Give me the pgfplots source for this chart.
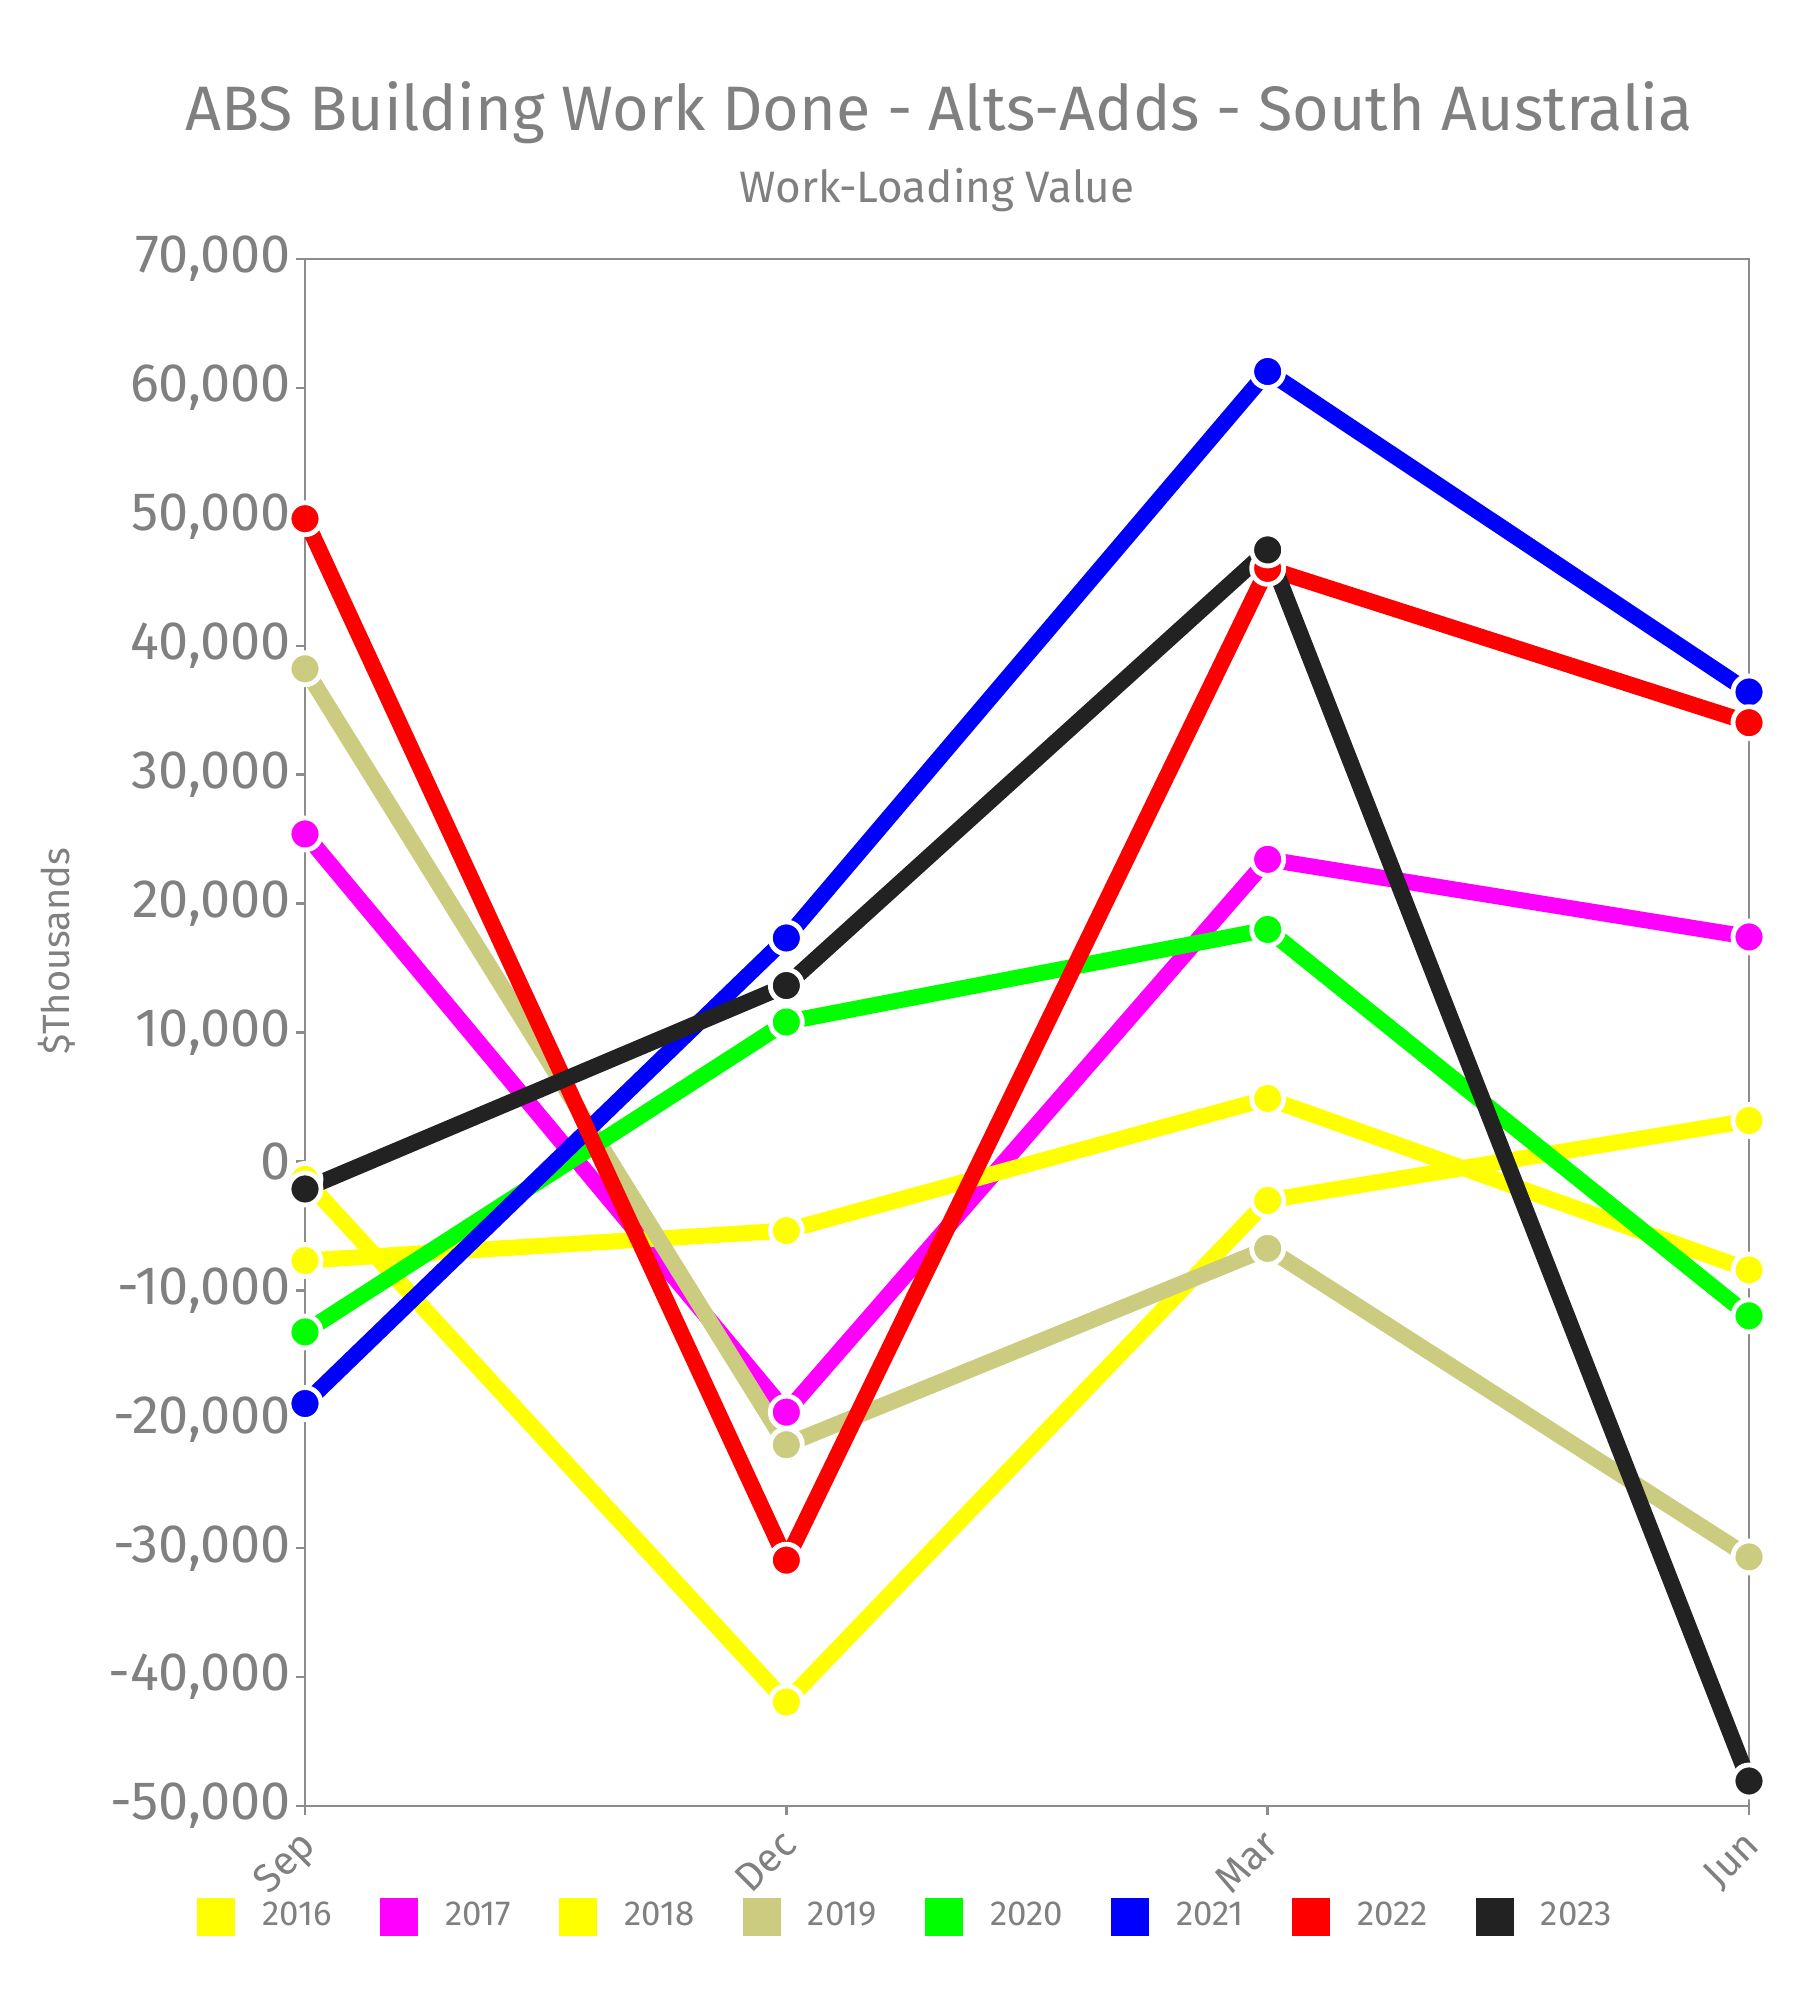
\documentclass[border=0pt]{standalone}
\usepackage{pgfplots}
\pgfplotsset{compat=1.18}
\usepackage{fontspec}
\setmainfont{Fira Sans}

\definecolor{txtgray}{HTML}{808080}
\definecolor{axgray}{HTML}{8C8C8C}
\definecolor{cyellow}{HTML}{FFFF00}
\definecolor{cmagenta}{HTML}{FF00FF}
\definecolor{ckhaki}{HTML}{CCCC80}
\definecolor{cgreen}{HTML}{00FF00}
\definecolor{cblue}{HTML}{0000FF}
\definecolor{cred}{HTML}{FF0000}
\definecolor{cblack}{HTML}{222222}

\begin{document}
\begin{tikzpicture}
% page = 450pt x 500pt, axis box from (0,0) to (361pt,386.75pt)
\useasboundingbox (-76.25pt,-48.5pt) rectangle (373.75pt,451.5pt);
\begin{axis}[
    at={(0,0)}, anchor=south west,
    scale only axis, width=361pt, height=386.75pt,
    xmin=0, xmax=3, ymin=-50000, ymax=70000,
    xtick={0,1,2,3}, xticklabels={Sep,Dec,Mar,Jun},
    ytick={-50000,-40000,...,70000},
    scaled y ticks=false,
    /pgf/number format/1000 sep={,},
    /pgf/number format/assume math mode=true,
    xtick pos=bottom, ytick pos=left,
    tick align=outside, major tick length=2.3pt,
    axis line style={axgray, line width=0.6pt},
    tick style={axgray, line width=0.6pt},
    clip=false,
    yticklabel style={font=\fontsize{13.5}{16}\selectfont, text=txtgray, inner sep=1pt},
    xticklabel style={font=\fontsize{10}{12}\selectfont, text=txtgray, rotate=45,
        anchor=north east, inner sep=1pt, xshift=-2.33pt, yshift=0.22pt},
    ylabel={\$Thousands},
    ylabel style={font=\fontsize{9.5}{11}\selectfont, text=txtgray, at={(rel axis cs:-0.1717,0.5527)}, anchor=center},
    every axis plot/.append style={line width=4pt, line join=round, mark=*, mark size=4pt,
        mark options={draw=white, line width=1.2pt, solid}},
    legend columns=8,
    legend image code/.code={%
        \fill[#1, draw opacity=0, line width=0pt] (0pt,-4.75pt) rectangle (9.5pt,4.75pt);
        \path[draw opacity=0, line width=0pt] (0pt,0pt) -- (14.3pt,0pt);},
    legend style={draw=none, fill=none, inner sep=0pt,
        at={(rel axis cs:-0.0751,-0.0718)}, anchor=west,
        font=\fontsize{8.7}{11}\selectfont, text=txtgray,
        /tikz/every even column/.append style={column sep=10pt}},
]
% 2016
\addplot[color=cyellow] coordinates {(0,-1400) (1,-41930) (2,-3030) (3,3170)};
\addlegendentry{2016}
% 2017
\addplot[color=cmagenta] coordinates {(0,25400) (1,-19450) (2,23430) (3,17410)};
\addlegendentry{2017}
% 2018
\addplot[color=cyellow] coordinates {(0,-7690) (1,-5370) (2,4880) (3,-8420)};
\addlegendentry{2018}
% 2019
\addplot[color=ckhaki] coordinates {(0,38210) (1,-21980) (2,-6750) (3,-30680)};
\addlegendentry{2019}
% 2020
\addplot[color=cgreen] coordinates {(0,-13230) (1,10810) (2,17990) (3,-11980)};
\addlegendentry{2020}
% 2021
\addplot[color=cblue] coordinates {(0,-18780) (1,17330) (2,61270) (3,36410)};
\addlegendentry{2021}
% 2022
\addplot[color=cred] coordinates {(0,49850) (1,-30930) (2,46000) (3,34030)};
\addlegendentry{2022}
% 2023
\addplot[color=cblack] coordinates {(0,-2140) (1,13640) (2,47430) (3,-48060)};
\addlegendentry{2023}
\end{axis}
\node[anchor=base, text=txtgray, font=\fontsize{15.7}{19}\selectfont] at (158.5pt,418.75pt)
    {ABS Building Work Done - Alts-Adds - South Australia};
\node[anchor=base, text=txtgray, font=\fontsize{11}{13}\selectfont] at (158pt,400.85pt)
    {Work-Loading Value};
\end{tikzpicture}
\end{document}
